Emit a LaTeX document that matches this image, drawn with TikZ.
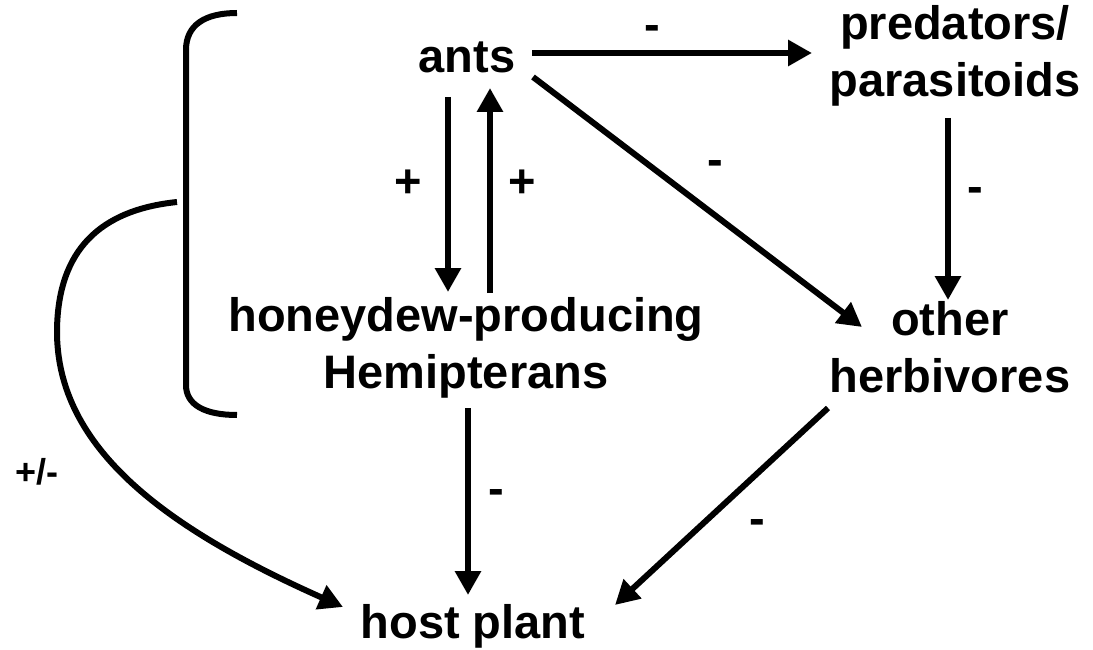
\documentclass[tikz,border=0pt]{standalone}
\usepackage{fontspec}
\setmainfont{Liberation Sans}
\usetikzlibrary{arrows.meta,calc}
\begin{document}
\begin{tikzpicture}[x=1pt,y=-1pt,
  lbl/.style={font=\bfseries\fontsize{47}{57}\selectfont, inner sep=0pt, align=center, anchor=base},
  sgn/.style={font=\bfseries\fontsize{47}{57}\selectfont, inner sep=0pt},
  arr/.style={line width=6pt, -{Triangle[length=24pt,width=25pt]}},
  brace/.style={line width=6pt}
]
\useasboundingbox (0,0) rectangle (1093,650);
% entities (base = baseline of the last line)
\node[lbl] (ants) at (467,73) {ants};
\node[lbl] (pred) at (955,97) {predators/\\parasitoids};
\node[lbl] (hemi) at (466,388) {honeydew-producing\\Hemipterans};
\node[lbl] (herb) at (950,392) {other\\herbivores};
\node[lbl] (host) at (473,638) {host plant};
% bracket grouping ants and Hemipterans
\draw[brace] (237,13) .. controls (205,13) and (186,25) .. (186,50) -- (186,385) .. controls (186,405) and (205,415) .. (237,415);
\coordinate (brk) at (177,202);
% connectors
\draw[arr] ($(ants.base)+(65,-20)$) -- ($(pred.base)+(-143,-44)$);
\draw[arr] ($(ants.base)+(66,4)$) -- ($(herb.base)+(-88,-65)$);
\draw[arr] ($(pred.base)+(-7,21)$) -- ($(herb.base)+(-2,-92)$);
\draw[arr] ($(ants.base)+(-19,24)$) -- ($(hemi.base)+(-18,-96)$);
\draw[arr] ($(hemi.base)+(24,-95)$) -- ($(ants.base)+(23,15)$);
\draw[arr] ($(hemi.base)+(2,20)$) -- ($(host.base)+(-5,-43)$);
\draw[arr] ($(herb.base)+(-122,16)$) -- ($(host.base)+(142,-33)$);
\draw[arr] (brk) .. controls (100,210) and (58,250) .. (57,330) .. controls (56,450) and (170,530) .. ($(host.base)+(-130,-31)$);
% signs
\node[sgn] (s1) at (652,33) {-};
\node[sgn] (s2) at (715,168) {-};
\node[sgn] (s3) at (975,195) {-};
\node[sgn] (s4) at (408,184) {+};
\node[sgn] (s5) at (522,184) {+};
\node[sgn] (s6) at (496,497) {-};
\node[sgn] (s7) at (757,527) {-};
\node[font=\bfseries\fontsize{36}{42}\selectfont, inner sep=0pt] (s8) at (37,472) {+/-};
\end{tikzpicture}
\end{document}
